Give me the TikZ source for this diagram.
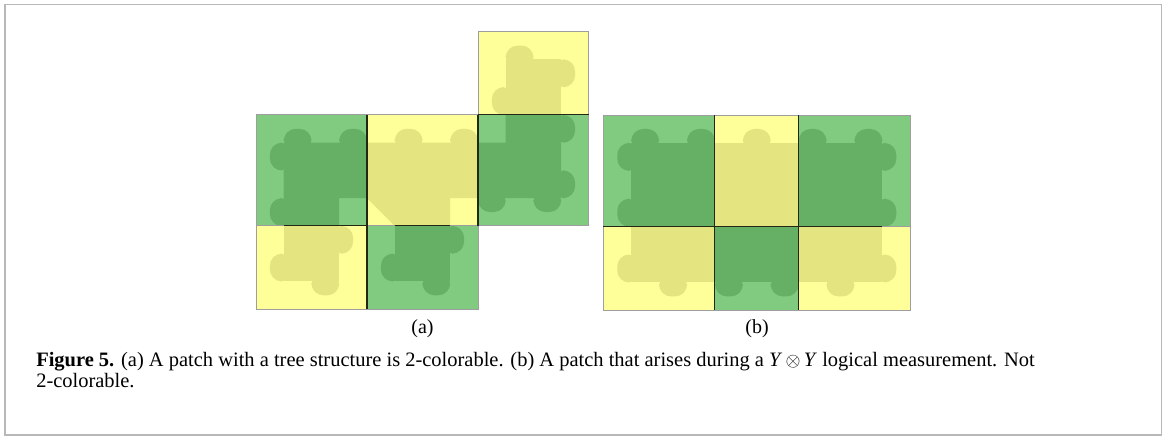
\documentclass[tikz,border=0pt]{standalone}
\usepackage{fontspec}
\setmainfont{Liberation Serif}

\definecolor{lightgreen}{RGB}{128,203,128}
\definecolor{darkgreen}{RGB}{102,176,102}
\definecolor{lightyellow}{RGB}{255,255,153}
\definecolor{darkyellow}{RGB}{228,228,128}
\definecolor{seamcolor}{RGB}{35,40,20}

\tikzset{
  frame/.style={draw=black!28, line width=1.1pt},
  tileedge/.style={draw=black!38, line width=0.7pt},
  seam/.style={draw=seamcolor, line width=0.8pt},
  bumpshape/.style={rounded corners=9pt},
  label/.style={font=\fontsize{15}{18}\selectfont, inner sep=0pt},
  captext/.style={font=\fontsize{15.35}{18}\selectfont, inner sep=0pt, anchor=base west}
}

% rounded boundary bumps; #1 colour, #2 x, #3 y (unit cells, y pointing down)
\newcommand\bumpup[3]{\fill[#1,bumpshape] ({#2},{#3+0.3}) -- ++(0,-0.8) -- ++(1,0) -- ++(0,0.8) -- cycle;}
\newcommand\bumpdown[3]{\fill[#1,bumpshape] ({#2},{#3-0.3}) -- ++(0,0.8) -- ++(1,0) -- ++(0,-0.8) -- cycle;}
\newcommand\bumpleft[3]{\fill[#1,bumpshape] ({#2+0.3},{#3}) -- ++(-0.8,0) -- ++(0,1) -- ++(0.8,0) -- cycle;}
\newcommand\bumpright[3]{\fill[#1,bumpshape] ({#2-0.3},{#3}) -- ++(0.8,0) -- ++(0,1) -- ++(-0.8,0) -- cycle;}

\begin{document}
\begin{tikzpicture}[x=0.75pt,y=-0.75pt]
\useasboundingbox (0,0) rectangle (1165,437);
\draw[frame] (5,4.5) rectangle (1161.5,435);

% ---------- (a): tree-shaped patch ----------
\begin{scope}[shift={(256,31.7)}, x=20.81pt, y=-20.81pt]
  % tiles
  \fill[lightyellow] (8,0) rectangle (12,3);
  \fill[lightgreen]  (0,3) rectangle (4,7);
  \fill[lightyellow] (4,3) rectangle (8,7);
  \fill[lightgreen]  (8,3) rectangle (12,7);
  \fill[lightyellow] (0,7) rectangle (4,10);
  \fill[lightgreen]  (4,7) rectangle (8,10);
  % top yellow
  \fill[darkyellow] (9,1) rectangle (11,3);
  \bumpup{darkyellow}{9}{1}
  \bumpright{darkyellow}{11}{1}
  \bumpleft{darkyellow}{9}{2}
  % left green
  \fill[darkgreen] (1,4) -- (4,4) -- (4,6) -- (3,6) -- (3,7) -- (1,7) -- cycle;
  \bumpup{darkgreen}{1}{4}
  \bumpup{darkgreen}{3}{4}
  \bumpleft{darkgreen}{1}{4}
  \bumpleft{darkgreen}{1}{6}
  % centre yellow
  \fill[darkyellow] (4,4) -- (8,4) -- (8,6) -- (7,6) -- (7,7) -- (5,7) -- (4,6) -- cycle;
  \bumpup{darkyellow}{5}{4}
  \bumpup{darkyellow}{7}{4}
  % right green
  \fill[darkgreen] (9,3) -- (11,3) -- (11,6) -- (8,6) -- (8,4) -- (9,4) -- cycle;
  \bumpright{darkgreen}{11}{3}
  \bumpright{darkgreen}{11}{5}
  \bumpdown{darkgreen}{8}{6}
  \bumpdown{darkgreen}{10}{6}
  % bottom yellow
  \fill[darkyellow] (1,7) rectangle (3,9);
  \bumpright{darkyellow}{3}{7}
  \bumpleft{darkyellow}{1}{8}
  \bumpdown{darkyellow}{2}{9}
  % bottom green
  \fill[darkgreen] (5,7) rectangle (7,9);
  \bumpright{darkgreen}{7}{7}
  \bumpleft{darkgreen}{5}{8}
  \bumpdown{darkgreen}{6}{9}
  % tile outlines
  \draw[tileedge] (8,0) rectangle (12,3);
  \draw[tileedge] (0,3) rectangle (4,7);
  \draw[tileedge] (4,3) rectangle (8,7);
  \draw[tileedge] (8,3) rectangle (12,7);
  \draw[tileedge] (0,7) rectangle (4,10);
  \draw[tileedge] (4,7) rectangle (8,10);
  % shared edges
  \draw[seam] (4,3) -- (4,10);
  \draw[seam] (8,3) -- (8,7);
  \draw[seam] (8,3) -- (12,3);
  \draw[seam] (1,7) -- (4,7);
  \draw[seam] (5,7) -- (7,7);
\end{scope}

% ---------- (b): patch during a Y (x) Y measurement ----------
\begin{scope}[shift={(603.3,115)}, x=20.93pt, y=-20.93pt]
  % tiles
  \fill[lightgreen]  (0,0) rectangle (4,4);
  \fill[lightyellow] (4,0) rectangle (7,4);
  \fill[lightgreen]  (7,0) rectangle (11,4);
  \fill[lightyellow] (0,4) rectangle (4,7);
  \fill[lightgreen]  (4,4) rectangle (7,7);
  \fill[lightyellow] (7,4) rectangle (11,7);
  % upper row
  \fill[darkgreen] (1,1) rectangle (4,4);
  \bumpup{darkgreen}{1}{1}
  \bumpup{darkgreen}{3}{1}
  \bumpleft{darkgreen}{1}{1}
  \bumpleft{darkgreen}{1}{3}
  \fill[darkyellow] (4,1) rectangle (7,4);
  \bumpup{darkyellow}{5}{1}
  \fill[darkgreen] (7,1) rectangle (10,4);
  \bumpup{darkgreen}{7}{1}
  \bumpup{darkgreen}{9}{1}
  \bumpright{darkgreen}{10}{1}
  \bumpright{darkgreen}{10}{3}
  % lower row
  \fill[darkyellow] (1,4) rectangle (4,6);
  \bumpleft{darkyellow}{1}{5}
  \bumpdown{darkyellow}{2}{6}
  \fill[darkgreen] (4,4) rectangle (7,6);
  \bumpdown{darkgreen}{4}{6}
  \bumpdown{darkgreen}{6}{6}
  \fill[darkyellow] (7,4) rectangle (10,6);
  \bumpright{darkyellow}{10}{5}
  \bumpdown{darkyellow}{8}{6}
  % tile outlines
  \draw[tileedge] (0,0) rectangle (4,4);
  \draw[tileedge] (4,0) rectangle (7,4);
  \draw[tileedge] (7,0) rectangle (11,4);
  \draw[tileedge] (0,4) rectangle (4,7);
  \draw[tileedge] (4,4) rectangle (7,7);
  \draw[tileedge] (7,4) rectangle (11,7);
  % shared edges
  \draw[seam] (4,0) -- (4,7);
  \draw[seam] (7,0) -- (7,7);
  \draw[seam] (0,4) -- (10,4);
\end{scope}

% panel labels
\node[label, anchor=base] (labela) at (422.5,333) {(a)};
\node[label, anchor=base] (labelb) at (757,333) {(b)};

% caption
\node[captext] (cap1) at (36,366) {\textbf{Figure 5.} (a) A patch with a tree structure is 2-colorable. (b) A patch that arises during a \textit{Y}\,$\otimes$\,\textit{Y} logical measurement. Not};
\node[captext] (cap2) at (36,387) {2-colorable.};
\end{tikzpicture}
\end{document}
